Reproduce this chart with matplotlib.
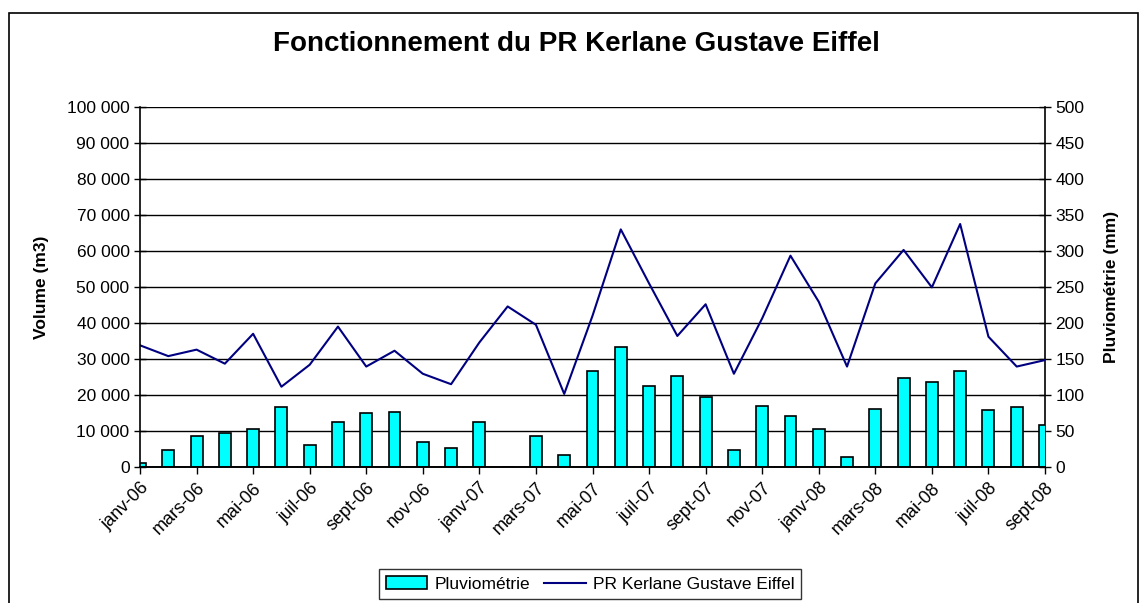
import matplotlib
matplotlib.use("Agg")
import matplotlib.pyplot as plt
from matplotlib.patches import Rectangle
from matplotlib.ticker import MultipleLocator, FuncFormatter

plt.rcParams['font.family'] = ['Liberation Sans', 'DejaVu Sans']

month_names = ['janv', 'févr', 'mars', 'avr', 'mai', 'juin',
               'juil', 'août', 'sept', 'oct', 'nov', 'déc']
months = [f"{month_names[i % 12]}-{6 + i // 12:02d}" for i in range(33)]

# volume pumped (m3), left axis
volume = [33800, 30800, 32600, 28700, 37000, 22300, 28400, 39000, 27900, 32300,
          25900, 23000, 34600, 44600, 39500, 20300, 42000, 66000, 51000, 36400,
          45200, 25900, 41300, 58700, 45900, 27900, 51000, 60300, 49900, 67500,
          36200, 27900, 29700]

# rainfall (mm), right axis
pluvio = [5, 24, 43, 47, 53, 83, 31, 63, 75, 77,
          35, 27, 63, 0, 43, 17, 133, 166, 113, 127,
          97, 24, 85, 71, 53, 13.5, 81, 123, 118, 133,
          79, 83, 59]

W, H = 1142, 603
fig = plt.figure(figsize=(W / 100, H / 100), dpi=100)
ax = fig.add_axes([140 / W, 1 - 467 / H, 905 / W, 360 / H])
ax2 = ax.twinx()

x = list(range(len(months)))

# bars on the right axis, gridlines under them
ax2.bar(x, pluvio, width=0.42, color='#00FFFF', edgecolor='black', linewidth=1.2,
        label='Pluviométrie', zorder=3)
ax2.set_ylim(0, 500)
ax2.yaxis.set_major_locator(MultipleLocator(50))
ax2.set_axisbelow(True)
ax2.grid(axis='y', color='black', linewidth=1.0)
ax2.set_ylabel('Pluviométrie (mm)', fontsize=12.5, fontweight='bold', labelpad=14)

# line on the left axis, drawn on top
ax.plot(x, volume, color='#000080', linewidth=1.5, label='PR Kerlane Gustave Eiffel')
ax.set_zorder(ax2.get_zorder() + 1)
ax.patch.set_visible(False)
ax.set_ylim(0, 100000)
ax.yaxis.set_major_locator(MultipleLocator(10000))
ax.yaxis.set_major_formatter(FuncFormatter(lambda v, p: f"{int(v):,}".replace(",", " ")))
ax.set_ylabel('Volume (m3)', fontsize=12.5, fontweight='bold', labelpad=13)

ax.set_xlim(0, 32)
ax.set_xticks(x[::2])
ax.set_xticklabels(months[::2], rotation=45, ha='right', rotation_mode='anchor', fontsize=13)

for a in (ax, ax2):
    a.spines['top'].set_visible(False)
    for s in a.spines.values():
        s.set_linewidth(1.2)
    a.tick_params(axis='y', direction='inout', length=8, width=1, labelsize=12.5)
ax.tick_params(axis='x', direction='out', length=5, width=1, pad=4)
ax2.spines['left'].set_visible(False)
ax.spines['right'].set_visible(False)

fig.suptitle('Fonctionnement du PR Kerlane Gustave Eiffel', x=576 / W, y=1 - 31 / H,
             fontsize=20, fontweight='bold', va='top')

h1, l1 = ax2.get_legend_handles_labels()
h2, l2 = ax.get_legend_handles_labels()
leg = fig.legend(h1 + h2, l1 + l2, loc='center', bbox_to_anchor=(590 / W, 1 - 584 / H),
                 ncol=2, fontsize=12.5, frameon=True, fancybox=False, edgecolor='black',
                 handlelength=2.4, columnspacing=0.8, handletextpad=0.4, borderpad=0.4)
leg.get_frame().set_linewidth(1.0)

fig.patches.append(Rectangle((9 / W, -0.05), (1138 - 9) / W, 1.05 - 13 / H,
                             transform=fig.transFigure, fill=False,
                             edgecolor='black', linewidth=1.2))

fig.savefig('out.png', dpi=100)
